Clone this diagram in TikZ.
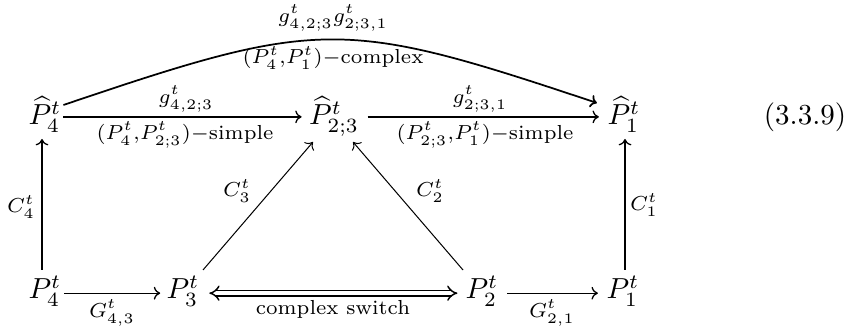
\documentclass[tikz,border=0pt]{standalone}
\usetikzlibrary{arrows.meta,calc}
\begin{document}
\begin{tikzpicture}[x=0.345pt,y=-0.345pt,
  obj/.style={inner sep=0pt, anchor=base},
  ar/.style={-{To[length=2.2pt,width=4.4pt]}, line width=0.45pt},
  dar/.style={line width=0.35pt, -{To[length=2.2pt,width=4.4pt]}},
  sw/.style={double, double distance=1.3pt, line width=0.5pt, {Implies}-{Implies}},
  lab/.style={inner sep=0pt, font=\scriptsize}]
\useasboundingbox (0,0) rectangle (857,327);
% objects
\node[obj] (P4h) at (45,125) {$\widehat{P}^t_4$};
\node[obj] (P23h) at (334,125) {$\widehat{P}^t_{2;3}$};
\node[obj] (P1h) at (624,125) {$\widehat{P}^t_1$};
\node[obj] (P4) at (45,299) {$P^t_4$};
\node[obj] (P3) at (183,299) {$P^t_3$};
\node[obj] (P2) at (482,299) {$P^t_2$};
\node[obj] (P1) at (623,299) {$P^t_1$};
\node[obj] (eq) at (805,125) {(3.3.9)};
% top row
\draw[ar] ($(P4h.base east)+(0.5pt,2.8pt)$) -- ($(P23h.base west)+(-2.4pt,2.8pt)$);
\draw[ar] ($(P23h.base east)+(2.8pt,2.8pt)$) -- ($(P1h.base west)+(-2.8pt,2.8pt)$);
\draw[ar, line width=0.6pt] ($(P4h.base east)+(0.5pt,6.9pt)$) .. controls (320,18) and (343,18) .. ($(P1h.base west)+(-3.5pt,7.6pt)$);
% bottom row
\draw[ar] ($(P4.base east)+(0.8pt,2pt)$) -- ($(P3.base west)+(-2pt,2pt)$);
\draw[sw] ($(P3.base east)+(3.2pt,2pt)$) -- ($(P2.base west)+(-2.6pt,2pt)$);
\draw[ar] ($(P2.base east)+(2.8pt,2pt)$) -- ($(P1.base west)+(-2.8pt,2pt)$);
% verticals
\draw[ar] (42,270) coordinate (v4s) -- (42,139) coordinate (v4e);
\draw[ar] (625,270) coordinate (v1s) -- (625,139) coordinate (v1e);
% diagonals
\draw[dar] (203,270) coordinate (c3s) -- (313,142) coordinate (c3e);
\draw[dar] (463,270) coordinate (c2s) -- (353,142) coordinate (c2e);
% labels
\node[lab] (l1) at (333,18) {$g^t_{4,2;3}g^t_{2;3,1}$};
\node[lab] (l2) at (333,58) {$(P^t_4{,}P^t_1){-}$complex};
\node[lab] (l3) at (186,99) {$g^t_{4,2;3}$};
\node[lab] (l4) at (185,135) {$(P^t_4{,}P^t_{2;3}){-}$simple};
\node[lab] (l5) at (480,99) {$g^t_{2;3,1}$};
\node[lab] (l6) at (485,135) {$(P^t_{2;3}{,}P^t_1){-}$simple};
\node[lab] (l7) at (21,207) {$C^t_4$};
\node[lab] (l8) at (237,191) {$C^t_3$};
\node[lab] (l9) at (430,191) {$C^t_2$};
\node[lab] (l10) at (644,205) {$C^t_1$};
\node[lab] (l11) at (112,313) {$G^t_{4,3}$};
\node[lab] (l12) at (333,309) {complex switch};
\node[lab] (l13) at (552,313) {$G^t_{2,1}$};
\end{tikzpicture}
\end{document}
